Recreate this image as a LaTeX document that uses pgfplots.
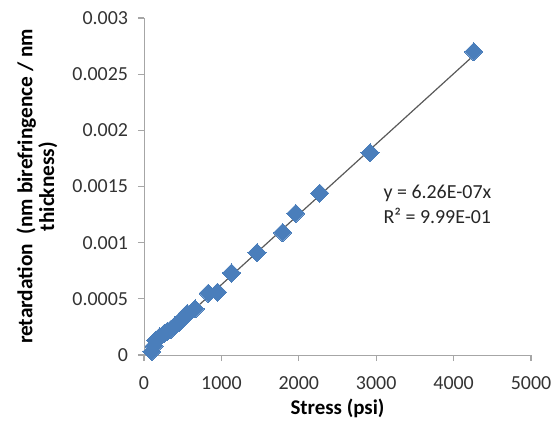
\documentclass[border=0pt]{standalone}
\usepackage{fontspec}
\setmainfont{Carlito}
\usepackage{pgfplots}
\pgfplotsset{compat=1.18}
\definecolor{xlBlue}{HTML}{4A7EBB}
\definecolor{axGray}{HTML}{A6A6A6}
\begin{document}
\fontsize{10}{12}\selectfont
\begin{tikzpicture}
\useasboundingbox (-72bp,-35bp) rectangle (205.5bp,177.5bp);
\begin{axis}[
    anchor=south west, at={(0,0)},
    scale only axis, width=193.5bp, height=168.5bp,
    xmin=0, xmax=5000, ymin=0, ymax=0.003,
    axis lines=left, axis line style={draw=axGray, -},
    tick style={draw=axGray, line width=0.6pt}, tick align=outside,
    major tick length=3bp,
    xtick={0,1000,2000,3000,4000,5000},
    xticklabels={0,1000,2000,3000,4000,5000},
    ytick={0,0.0005,0.001,0.0015,0.002,0.0025,0.003},
    yticklabels={0,0.0005,0.001,0.0015,0.002,0.0025,0.003},
    scaled y ticks=false,
    tick label style={font=\fontsize{10}{12}\selectfont, text=black!80},
    xticklabel style={yshift=-4.5bp},
    yticklabel style={xshift=-1.5bp},
    xlabel={\textbf{Stress (psi)}},
    ylabel={\textbf{retardation\ \ (nm birefringence / nm}\\\textbf{thickness)}},
    ylabel style={at={(axis description cs:-0.2765,0.5)}, anchor=center,
        align=center, font=\fontsize{10.7}{11}\selectfont},
    xlabel style={at={(axis description cs:0.5,0)}, yshift=-26.5bp,
        anchor=center, font=\fontsize{10.5}{12}\selectfont},
    clip=false,
]
% fitted line y = 6.26E-07 x
\addplot[black!65, line width=0.6pt] coordinates {(80,0.0000501) (4260,0.0026668)};
% measurements
\addplot[only marks, color=xlBlue, mark=square*, mark size=3.2bp,
    mark options={rotate=45, fill=xlBlue, draw=xlBlue, line width=0pt}] coordinates {
    (100,0.00003) (130,0.00008) (150,0.00013) (200,0.00016)
    (260,0.00019) (300,0.00021) (350,0.00023) (400,0.00026)
    (450,0.00029) (480,0.00031) (520,0.00034) (560,0.00037)
    (660,0.00041) (830,0.00055) (950,0.00056) (1130,0.00073)
    (1460,0.00091) (1790,0.00109) (1960,0.00126) (2270,0.00144)
    (2920,0.0018) (4260,0.0027)
};
\node[anchor=west, align=left, inner sep=0pt, text=black!85,
      font=\fontsize{10}{12.5}\selectfont] at (axis cs:3090,0.00134)
    {y = 6.26E-07x\\R² = 9.99E-01};
\end{axis}
\end{tikzpicture}
\end{document}
